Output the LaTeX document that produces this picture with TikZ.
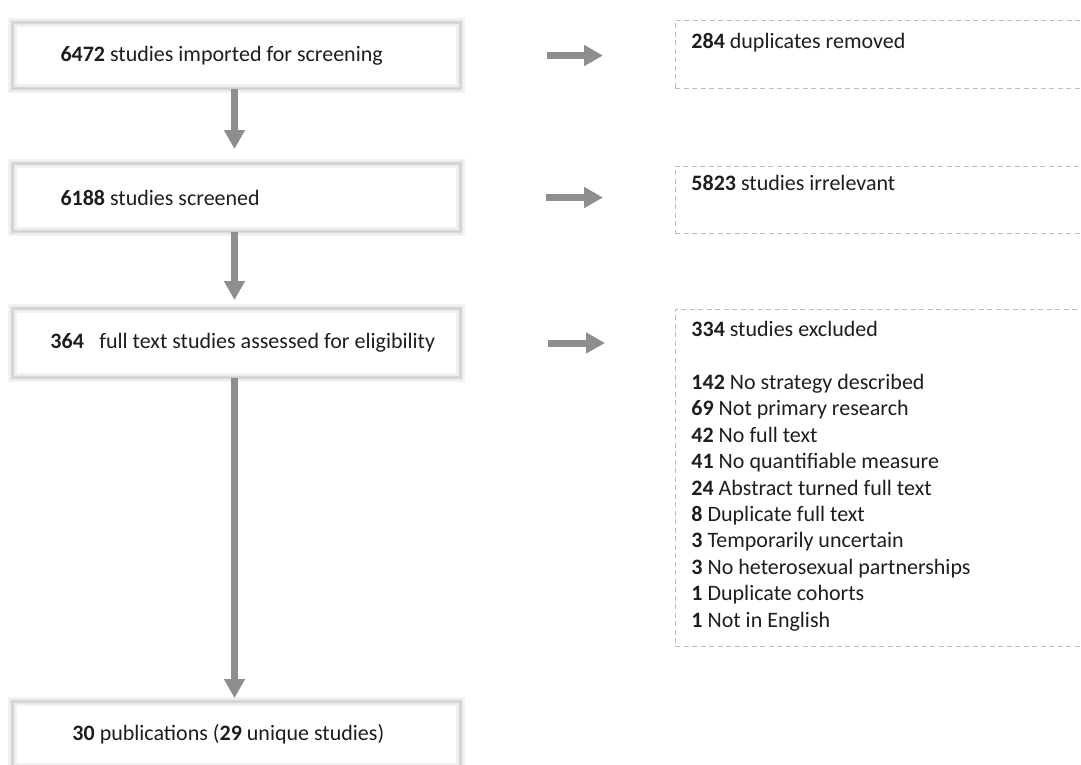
\documentclass[tikz,border=0pt]{standalone}
\usepackage{fontspec}
\setmainfont{Carlito}
\usetikzlibrary{arrows.meta}
\definecolor{arrowgray}{HTML}{8E8E90}
\definecolor{boxedge}{HTML}{CFCFCF}
\definecolor{dashgray}{HTML}{BDBDBD}
\definecolor{txt}{HTML}{1E1E1E}
\tikzset{
  mainbox/.style={anchor=north west, minimum width=448pt,
    inner xsep=0pt, inner ysep=0pt, text=txt,
    draw=boxedge, line width=1pt,
    preaction={draw=black!5, line width=9pt},
    preaction={draw=black!9, line width=5pt},
    preaction={draw=black!14, line width=2.5pt}},
  exbox/.style={anchor=north west, draw=dashgray, line width=0.9pt,
    dash pattern=on 5pt off 3.5pt, inner xsep=16pt, inner ysep=0pt,
    align=left, text=txt},
  flowarrow/.style={draw=arrowgray, line width=7pt,
    -{Triangle[width=20pt,length=19pt]}, arrowgray},
}
\newcommand{\boxline}[2]{\makebox[448pt][l]{\hspace*{#1}#2}}
\begin{document}
\begin{tikzpicture}[x=1pt,y=-1pt,font=\fontsize{22}{26.4}\selectfont]
\useasboundingbox (0,0) rectangle (1081,764);
\clip (0,0) rectangle (1081,764);
\fill[white] (0,0) rectangle (1081,764);
% left column
\node[mainbox, minimum height=66pt] (b1) at (12,22) {\boxline{48pt}{\textbf{6472} studies imported for screening}};
\node[mainbox, minimum height=68pt] (b2) at (12,163) {\boxline{48pt}{\textbf{6188} studies screened}};
\node[mainbox, minimum height=69pt] (b3) at (12,308) {\boxline{38pt}{\textbf{364}\hspace{0.7em}full text studies assessed for eligibility}};
\node[mainbox, minimum height=66pt] (b4) at (12,701) {\boxline{60pt}{\textbf{30} publications (\textbf{29} unique studies)}};
% right column
\node[exbox] (r1) at (675,20) {\parbox[t][68pt][t]{400pt}{\vspace{13pt}\textbf{284} duplicates removed}};
\node[exbox] (r2) at (675,166) {\parbox[t][67pt][t]{400pt}{\vspace{9pt}\textbf{5823} studies irrelevant}};
\node[exbox] (r3) at (675,309) {\parbox[t][337pt][t]{400pt}{\vspace{12pt}\textbf{334} studies excluded\\[26.4pt]
\textbf{142} No strategy described\\
\textbf{69} Not primary research\\
\textbf{42} No full text\\
\textbf{41} No quantifiable measure\\
\textbf{24} Abstract turned full text\\
\textbf{8} Duplicate full text\\
\textbf{3} Temporarily uncertain\\
\textbf{3} No heterosexual partnerships\\
\textbf{1} Duplicate cohorts\\
\textbf{1} Not in English}};
% vertical arrows
\draw[flowarrow, shorten >=14pt] ([xshift=-2pt]b1.south) -- ([xshift=-2pt]b2.north);
\draw[flowarrow, shorten >=8pt] ([xshift=-2pt]b2.south) -- ([xshift=-2pt]b3.north);
\draw[flowarrow, shorten >=3pt] ([xshift=-2pt]b3.south) -- ([xshift=-2pt]b4.north);
% horizontal arrows
\draw[flowarrow, shorten <=86pt, shorten >=72pt] (b1.east) -- (b1.east -| r1.west);
\draw[flowarrow, shorten <=85pt, shorten >=72pt] (b2.east) -- (b2.east -| r2.west);
\draw[flowarrow, shorten <=87pt, shorten >=70pt] (b3.east) -- (b3.east -| r3.west);
\end{tikzpicture}
\end{document}
